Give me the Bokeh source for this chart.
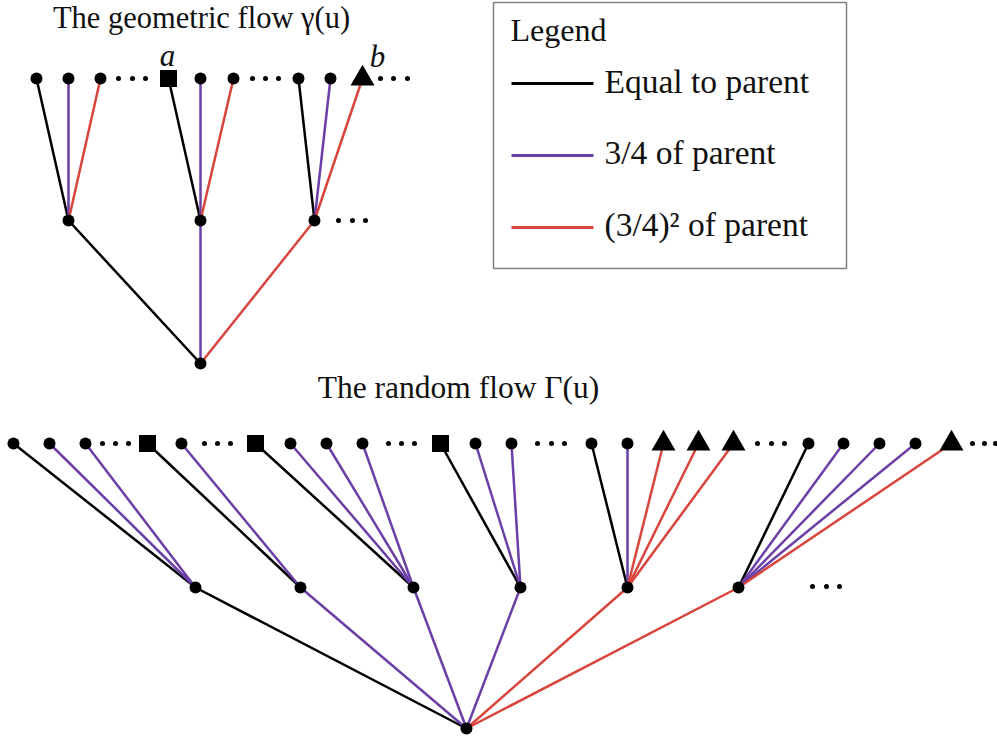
from bokeh.plotting import figure
from bokeh.models import Range1d, ColumnDataSource
from bokeh.embed import file_html
from bokeh.resources import INLINE
from bokeh.core.properties import value

# ---------------- data ----------------
kinds = ["equal", "three_quarters", "nine_sixteenths"]
legend_labels = ["Equal to parent", "3/4 of parent", "(3/4)\u00b2 of parent"]
kind_colors = {"equal": "#000000", "three_quarters": "#6a3fa6", "nine_sixteenths": "#d8453d"}

# geometric flow (top tree)
top_title = "The geometric flow \u03b3(u)"
top_root_x = [200]
top_root_y = [363]
top_mid_x = [68, 200, 314]
top_mid_y = [220, 220, 220]
top_mid_kind = ["equal", "three_quarters", "nine_sixteenths"]
top_leaf_x = [36, 68, 100, 168, 200, 233, 298, 330, 362]
top_leaf_y = [78] * 9
top_leaf_parent = [0, 0, 0, 1, 1, 1, 2, 2, 2]
top_leaf_kind = ["equal", "three_quarters", "nine_sixteenths",
                 "equal", "three_quarters", "nine_sixteenths",
                 "equal", "three_quarters", "nine_sixteenths"]
top_leaf_marker = ["circle", "circle", "circle", "square", "circle", "circle",
                   "circle", "circle", "triangle"]
top_dots_x = [118, 132, 145, 252, 265, 278, 380, 393, 407, 338, 352, 365]
top_dots_y = [78, 78, 78, 78, 78, 78, 78, 78, 78, 220, 220, 220]
top_point_labels = ["a", "b"]
top_point_label_x = [167, 377]
top_point_label_y = [66, 67]

# random flow (bottom tree)
bot_title = "The random flow \u0393(u)"
bot_root_x = [466]
bot_root_y = [728]
bot_mid_x = [195, 300, 413, 520, 627, 738]
bot_mid_y = [587] * 6
bot_mid_kind = ["equal", "three_quarters", "three_quarters", "three_quarters",
                "nine_sixteenths", "nine_sixteenths"]
bot_leaf_x = [13, 49, 85, 147, 181, 255, 290, 326, 362, 440, 475, 511,
              591, 627, 663, 698, 733, 808, 843, 879, 915, 951]
bot_leaf_y = [443] * 22
bot_leaf_parent = [0, 0, 0, 1, 1, 2, 2, 2, 2, 3, 3, 3,
                   4, 4, 4, 4, 4, 5, 5, 5, 5, 5]
bot_leaf_kind = ["equal", "three_quarters", "three_quarters",
                 "equal", "three_quarters",
                 "equal", "three_quarters", "three_quarters", "three_quarters",
                 "equal", "three_quarters", "three_quarters",
                 "equal", "three_quarters", "nine_sixteenths", "nine_sixteenths", "nine_sixteenths",
                 "equal", "three_quarters", "three_quarters", "three_quarters", "nine_sixteenths"]
bot_leaf_marker = ["circle", "circle", "circle", "square", "circle",
                   "square", "circle", "circle", "circle",
                   "square", "circle", "circle",
                   "circle", "circle", "triangle", "triangle", "triangle",
                   "circle", "circle", "circle", "circle", "triangle"]
bot_dots_x = [102, 115, 128, 204, 217, 230, 388, 401, 414, 537, 551, 564,
              757, 771, 784, 972, 984, 995, 812, 826, 839]
bot_dots_y = [443] * 18 + [586, 586, 586]

# ---------------- figure ----------------
W, H = 997, 741
p = figure(width=W, height=H, output_backend="svg", toolbar_location=None,
           x_range=Range1d(0, W), y_range=Range1d(H, 0),
           x_axis_type=None, y_axis_type=None, min_border=0,
           background_fill_color="white", border_fill_color="white")
p.outline_line_color = None
p.grid.visible = False

FONT = value("Liberation Serif")
TXT = "#111111"
BASE_SHIFT = 11  # renderer places alphabetic baseline lower than expected


def draw_tree(root_x, root_y, mid_x, mid_y, mid_kind,
              leaf_x, leaf_y, leaf_parent, leaf_kind, leaf_marker):
    x0, y0, x1, y1, col = [], [], [], [], []
    for i in range(len(mid_x)):
        x0.append(root_x[0]); y0.append(root_y[0])
        x1.append(mid_x[i]); y1.append(mid_y[i])
        col.append(kind_colors[mid_kind[i]])
    for i in range(len(leaf_x)):
        par = leaf_parent[i]
        x0.append(mid_x[par]); y0.append(mid_y[par])
        x1.append(leaf_x[i]); y1.append(leaf_y[i])
        col.append(kind_colors[leaf_kind[i]])
    p.segment(x0=x0, y0=y0, x1=x1, y1=y1, line_color=col, line_width=2.5)
    # nodes
    p.scatter(root_x + mid_x, root_y + mid_y, marker="circle", size=12,
              fill_color="black", line_color=None)
    sizes = {"circle": 12, "square": 17, "triangle": 24}
    src = ColumnDataSource(dict(
        x=leaf_x, y=leaf_y, marker=leaf_marker,
        size=[sizes[m] for m in leaf_marker]))
    p.scatter("x", "y", marker="marker", size="size", source=src,
              fill_color="black", line_color=None)


draw_tree(top_root_x, top_root_y, top_mid_x, top_mid_y, top_mid_kind,
          top_leaf_x, top_leaf_y, top_leaf_parent, top_leaf_kind, top_leaf_marker)
draw_tree(bot_root_x, bot_root_y, bot_mid_x, bot_mid_y, bot_mid_kind,
          bot_leaf_x, bot_leaf_y, bot_leaf_parent, bot_leaf_kind, bot_leaf_marker)

# ellipsis dots
p.scatter(top_dots_x + bot_dots_x, top_dots_y + bot_dots_y, marker="circle",
          size=5, fill_color="black", line_color=None)

# titles and labels
p.text(x=[201], y=[28 - BASE_SHIFT], text=[top_title], text_font=FONT,
       text_font_size="30.5px", text_align="center", text_baseline="alphabetic",
       text_color=TXT)
p.text(x=[458], y=[398 - BASE_SHIFT], text=[bot_title], text_font=FONT,
       text_font_size="31.5px", text_align="center", text_baseline="alphabetic",
       text_color=TXT)
p.text(x=top_point_label_x, y=[v - BASE_SHIFT for v in top_point_label_y],
       text=top_point_labels, text_font=FONT, text_font_size="31px",
       text_font_style="italic", text_align="center", text_baseline="alphabetic",
       text_color=TXT)

# legend box (drawn)
p.quad(left=[493], right=[846], top=[2], bottom=[268], fill_color="white",
       line_color="#808080", line_width=1.5)
p.text(x=[510], y=[40 - BASE_SHIFT], text=["Legend"], text_font=FONT,
       text_font_size="32px", text_align="left", text_baseline="alphabetic",
       text_color=TXT)
legend_line_y = [83, 155, 227]
p.segment(x0=[511] * 3, x1=[593] * 3, y0=legend_line_y, y1=legend_line_y,
          line_color=[kind_colors[k] for k in kinds], line_width=3)
p.text(x=[604] * 3, y=[v - BASE_SHIFT for v in [92, 163, 235]], text=legend_labels,
       text_font=FONT, text_font_size="33.5px", text_align="left",
       text_baseline="alphabetic", text_color=TXT)

open("out.html", "w").write(file_html(p, INLINE))
